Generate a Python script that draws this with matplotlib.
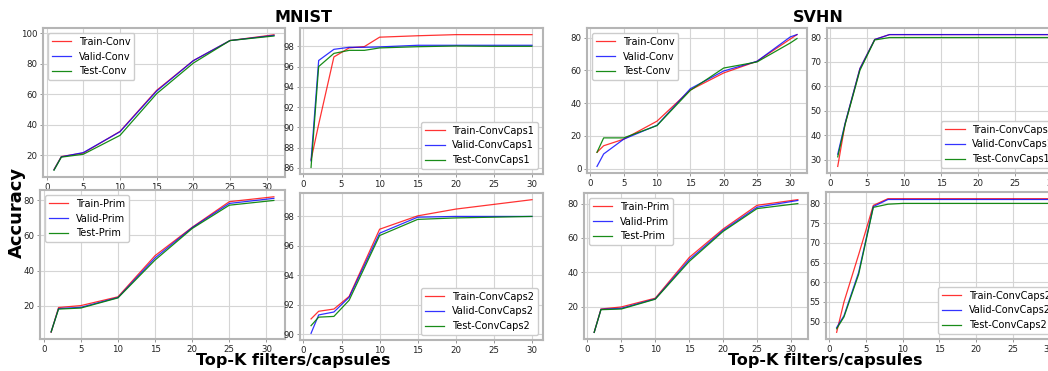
import matplotlib
matplotlib.use("Agg")
from matplotlib import pyplot as plt
from matplotlib.ticker import MultipleLocator

# x values (Top-K)
k_conv = [1, 2, 5, 10, 15, 20, 25, 31]
k_caps1 = [1, 2, 4, 6, 8, 10, 15, 20, 25, 30]
k_caps2 = [1, 2, 4, 6, 10, 15, 20, 25, 30]
k_svhn_conv = [1, 2, 5, 10, 15, 20, 25, 30, 31]
k_svhn_caps = [1, 2, 4, 6, 8, 10, 15, 20, 25, 30]

# MNIST
mnist_conv_train = [10.5, 19, 21.3, 35.5, 62.5, 82, 95.2, 99]
mnist_conv_valid = [10.3, 18.8, 21.6, 35.3, 62, 82, 95.2, 98.6]
mnist_conv_test = [10, 18.6, 20.5, 32.9, 60.3, 80.4, 95.2, 98.2]

mnist_caps1_train = [86.8, 90.3, 96.95, 97.84, 97.97, 98.9, 99.04, 99.15, 99.15, 99.15]
mnist_caps1_valid = [86.7, 96.6, 97.7, 97.9, 97.9, 97.94, 98.1, 98.1, 98.1, 98.1]
mnist_caps1_test = [86.06, 96.0, 97.3, 97.6, 97.6, 97.84, 97.96, 98.03, 98.0, 98.0]

mnist_prim_train = [4.8, 18.9, 20, 25, 48.5, 64.7, 79.3, 82.1]
mnist_prim_valid = [5, 18.3, 19, 24.6, 47.2, 64.5, 78.3, 81.2]
mnist_prim_test = [5, 18, 18.6, 24.4, 46, 64, 77.3, 80]

mnist_caps2_train = [91.03, 91.55, 91.7, 92.56, 97.13, 98.04, 98.5, 98.82, 99.14]
mnist_caps2_valid = [90.05, 91.3, 91.5, 92.5, 96.86, 97.95, 98.0, 98.0, 98.0]
mnist_caps2_test = [90.57, 91.15, 91.2, 92.3, 96.7, 97.8, 97.9, 97.95, 98.0]

# SVHN
svhn_conv_train = [10, 14, 18, 29, 48, 58.4, 65.5, 79.1, 81.8]
svhn_conv_valid = [1.4, 9, 18, 26.5, 48.8, 59.6, 65.5, 80.4, 81.8]
svhn_conv_test = [10, 18.8, 18.8, 26.3, 47.8, 61.4, 65.1, 76.7, 79.4]

svhn_caps1_train = [27.3, 44.7, 67.3, 79.2, 81.2, 81.2, 81.2, 81.2, 81.2, 81.2]
svhn_caps1_valid = [32.3, 45, 67.3, 79.2, 81.2, 81.2, 81.2, 81.2, 81.2, 81.2]
svhn_caps1_test = [31.2, 44.5, 66.6, 79.0, 80, 80, 80, 80, 80, 80]

svhn_prim_train = [5, 18.6, 19.8, 24.9, 48.6, 65.2, 79, 82.3]
svhn_prim_valid = [5, 18.4, 19, 24.5, 47.3, 64.4, 77.9, 81.8]
svhn_prim_test = [5, 18.2, 18.6, 24.3, 46.3, 63.8, 77.1, 80]

svhn_caps2_train = [47.3, 55, 67, 79.5, 81.2, 81.2, 81.2, 81.2, 81.2, 81.2]
svhn_caps2_valid = [48.5, 51.5, 62.5, 79.2, 81, 81, 81, 81, 81, 81]
svhn_caps2_test = [48.2, 51.2, 62, 79, 79.8, 80, 80, 80, 80, 80]

W, H = 1048, 371
fig = plt.figure(figsize=(W / 100, H / 100), dpi=100)


def rect(l, t, r, b):
    return [l / W, 1 - b / H, (r - l) / W, (b - t) / H]


def panel(box, x, tr, va, te, name, loc, step):
    ax = fig.add_axes(rect(*box))
    ax.plot(x, tr, color='red', lw=0.9, alpha=0.8, label='Train-' + name)
    ax.plot(x, va, color='blue', lw=0.9, alpha=0.8, label='Valid-' + name)
    ax.plot(x, te, color='green', lw=0.9, alpha=0.9, label='Test-' + name)
    ax.grid(True, color='#d5d5d5', lw=0.8)
    ax.set_axisbelow(True)
    ax.xaxis.set_major_locator(MultipleLocator(5))
    ax.yaxis.set_major_locator(MultipleLocator(step))
    ax.tick_params(labelsize=6.2, length=2.5, width=0.6, color='#888888',
                   labelcolor='#222222', pad=1.5)
    for s in ax.spines.values():
        s.set_color('#b5b5b5')
        s.set_linewidth(1.5)
    ax.legend(loc=loc, fontsize=7, framealpha=1, borderaxespad=0.5)
    return ax


panel((43, 28, 285, 177), k_conv, mnist_conv_train, mnist_conv_valid,
      mnist_conv_test, 'Conv', 'upper left', 20)
panel((300, 28, 543, 174), k_caps1, mnist_caps1_train, mnist_caps1_valid,
      mnist_caps1_test, 'ConvCaps1', 'lower right', 2)
panel((40, 190, 285, 339), k_conv, mnist_prim_train, mnist_prim_valid,
      mnist_prim_test, 'Prim', 'upper left', 20)
panel((300, 193, 543, 340), k_caps2, mnist_caps2_train, mnist_caps2_valid,
      mnist_caps2_test, 'ConvCaps2', 'lower right', 2)

panel((587, 28, 807, 173), k_svhn_conv, svhn_conv_train, svhn_conv_valid,
      svhn_conv_test, 'Conv', 'upper left', 20)
panel((827, 28, 1063, 173), k_svhn_caps, svhn_caps1_train, svhn_caps1_valid,
      svhn_caps1_test, 'ConvCaps1', 'lower right', 10)
panel((584, 193, 808, 339), k_conv, svhn_prim_train, svhn_prim_valid,
      svhn_prim_test, 'Prim', 'upper left', 20)
panel((826, 192, 1060, 339), k_svhn_caps, svhn_caps2_train, svhn_caps2_valid,
      svhn_caps2_test, 'ConvCaps2', 'lower right', 5)

fig.text(303 / W, 1 - 17 / H, 'MNIST', ha='center', va='center',
         fontsize=11.5, fontweight='bold')
fig.text(818 / W, 1 - 17 / H, 'SVHN', ha='center', va='center',
         fontsize=11.5, fontweight='bold')
fig.text(293 / W, 1 - 361 / H, 'Top-K filters/capsules', ha='center',
         va='center', fontsize=11.5, fontweight='bold')
fig.text(825 / W, 1 - 361 / H, 'Top-K filters/capsules', ha='center',
         va='center', fontsize=11.5, fontweight='bold')
fig.text(17 / W, 1 - 212 / H, 'Accuracy', ha='center', va='center',
         rotation=90, fontsize=13, fontweight='bold')

plt.savefig('out.png', dpi=100)
